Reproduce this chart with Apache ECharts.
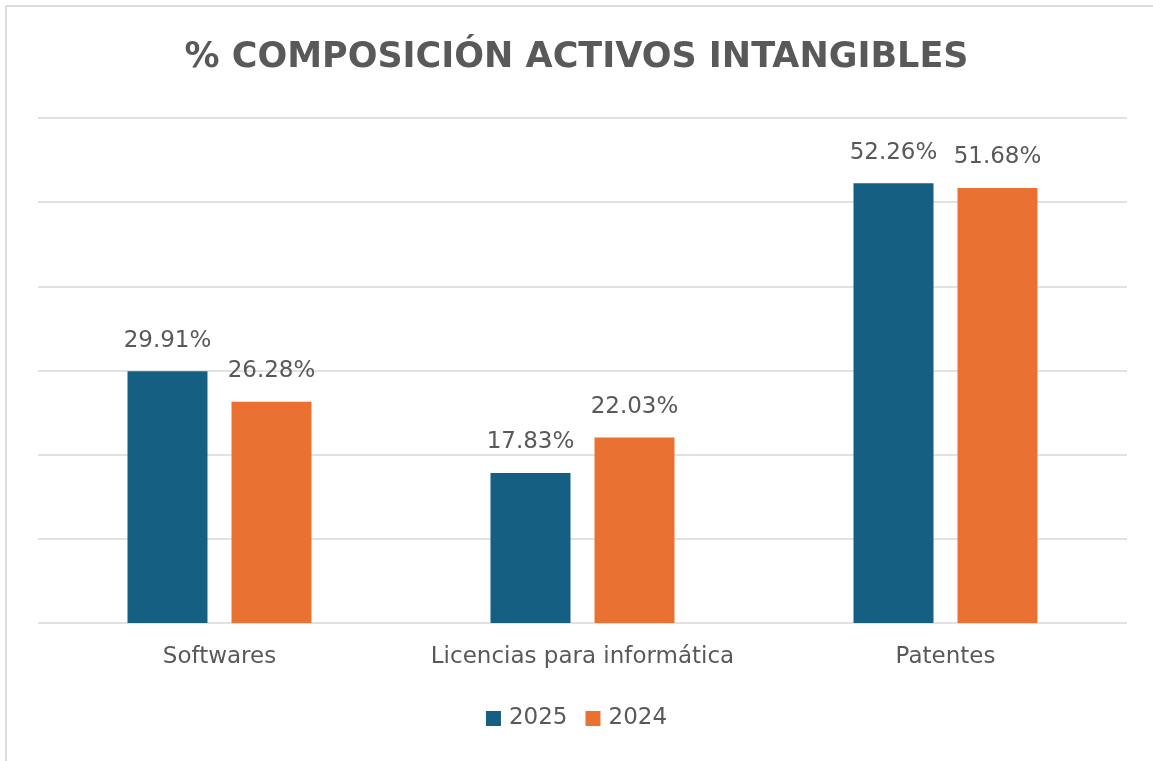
<!DOCTYPE html>
<html>
<head>
<meta charset="utf-8">
<script src="https://cdn.jsdelivr.net/npm/echarts@6/dist/echarts.min.js"></script>
<style>
  html, body { margin: 0; padding: 0; background: #fff; }
  #frame {
    position: absolute; left: 5px; top: 5px; width: 1160px; height: 770px;
    border-left: 2px solid #dcdcdc; border-top: 2px solid #dcdcdc;
  }
  #chart { position: absolute; left: 0; top: 0; width: 1153px; height: 761px; }
</style>
</head>
<body>
<div id="frame"></div>
<div id="chart"></div>
<script>
const categories = ['Softwares', 'Licencias para informática', 'Patentes']
const values2025 = [29.91, 17.83, 52.26]
const values2024 = [26.28, 22.03, 51.68]

const textColor = '#595959'
const fontFamily = '"DejaVu Sans", Inter, sans-serif'

const chart = echarts.init(document.getElementById('chart'))

const labelStyle = {
  show: true,
  position: 'top',
  distance: 19,
  color: textColor,
  fontSize: 23,
  fontFamily,
  formatter: p => p.value.toFixed(2) + '%'
}

chart.setOption({
  animation: false,
  title: {
    text: '% COMPOSICIÓN ACTIVOS INTANGIBLES',
    left: 'center',
    top: 35,
    textStyle: { color: textColor, fontSize: 35, fontWeight: 'bold', fontFamily }
  },
  legend: {
    bottom: 26,
    left: 'center',
    itemWidth: 15,
    itemHeight: 15,
    itemGap: 18,
    icon: 'rect',
    textStyle: { color: textColor, fontSize: 23, fontFamily, padding: [0, 0, 0, 3] }
  },
  grid: { left: 38, right: 26, top: 118, bottom: 138 },
  xAxis: {
    type: 'category',
    data: categories,
    axisLine: { show: false },
    axisTick: { show: false },
    axisLabel: {
      color: textColor, fontSize: 23, fontFamily, margin: 23,
      interval: 0, hideOverlap: false
    }
  },
  yAxis: {
    type: 'value',
    min: 0,
    max: 60,
    interval: 10,
    axisLabel: { show: false },
    axisLine: { show: false },
    axisTick: { show: false },
    splitLine: { lineStyle: { color: '#d9d9d9', width: 1.5 } }
  },
  series: [
    {
      name: '2025',
      type: 'bar',
      data: values2025,
      barWidth: 80,
      barGap: '30%',
      itemStyle: { color: '#156082' },
      label: labelStyle
    },
    {
      name: '2024',
      type: 'bar',
      data: values2024,
      barWidth: 80,
      itemStyle: { color: '#e97132' },
      label: labelStyle
    }
  ]
})
</script>
</body>
</html>
